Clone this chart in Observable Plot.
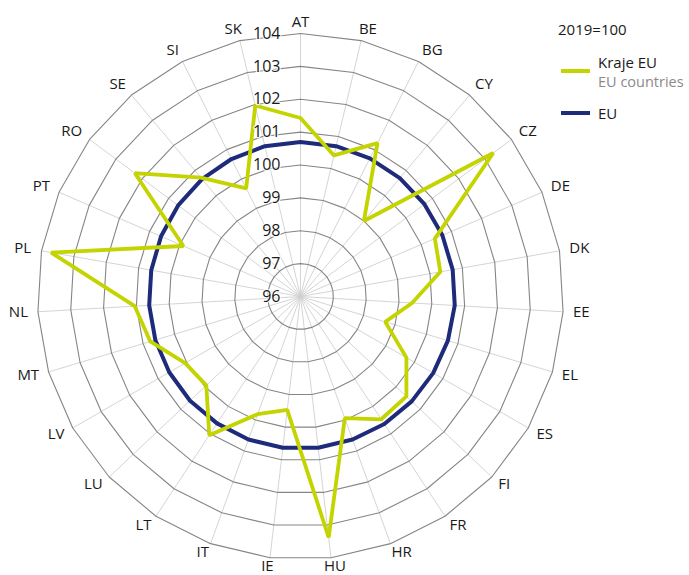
<!DOCTYPE html>
<html>
<head>
<meta charset="utf-8">
<script src="https://cdn.jsdelivr.net/npm/d3@7"></script>
<script src="https://cdn.jsdelivr.net/npm/@observablehq/plot@0.6"></script>
<style>
  html, body { margin: 0; padding: 0; background: #fff; }
  #wrap { position: relative; width: 689px; height: 575px; font-family: "Open Sans", sans-serif; overflow: hidden; }
  .lg { position: absolute; color: #1a1a1a; font-size: 15px; line-height: 18px; white-space: nowrap; }
  .lg.sub { color: #8a8a8a; font-size: 14.5px; }
  .sw { position: absolute; left: 561px; width: 29px; height: 4px; }
</style>
</head>
<body>
<div id="wrap">
  <div id="chart"></div>
  <div id="legend"></div>
</div>
<script>
// ---- data ----
const countries = ["AT","BE","BG","CY","CZ","DE","DK","EE","EL","ES","FI","FR","HR","HU","IE","IT","LT","LU","LV","MT","NL","PL","PT","RO","SE","SI","SK"];
const krajeEU = [101.43,100.41,101.22,99.0,103.31,100.45,100.32,99.40,98.69,99.72,100.43,100.47,99.94,103.38,99.47,99.81,101.05,99.94,100.05,100.77,101.05,103.70,99.88,102.28,100.72,99.68,101.97];
const euValues = [100.7,100.7,100.7,100.7,100.7,100.7,100.7,100.7,100.68,100.66,100.65,100.64,100.63,100.63,100.63,100.63,100.62,100.62,100.61,100.61,100.61,100.61,100.62,100.64,100.66,100.68,100.7];
const tickValues = [96,97,98,99,100,101,102,103,104];
const legendTitle = "2019=100";
const krajeName = "Kraje EU";
const krajeSub = "EU countries";
const euName = "EU";

// ---- layout ----
const W = 689, H = 575, cx = 300, cy = 296;
const rMin = 96, rMax = 104;
const k = 263 / (rMax - rMin);            // px per unit
const n = countries.length;
const ang = i => 2 * Math.PI * i / n;
const px = (v, i) => (v - rMin) * Math.sin(ang(i));
const py = (v, i) => (v - rMin) * Math.cos(ang(i));

const yellow = "#c3d400";
const navy = "#1e2b7b";
const textColor = "#1a1a1a";

const closed = arr => [...arr.map((v, i) => ({v, i})), {v: arr[0], i: 0}];

const ringData = tickValues.filter(t => t > rMin).flatMap(t =>
  closed(countries.map(() => t)).map(d => ({ring: t, x: px(t, d.i), y: py(t, d.i)})));

// label placement: outside the outer-ring vertex, box pushed away from the chart
const ctx = document.createElement("canvas").getContext("2d");
const spokes = countries.map((c, i) => {
  ctx.font = `${c === "PL" ? "bold " : ""}15px 'Open Sans'`;
  const w = ctx.measureText(c).width;
  const s = Math.sin(ang(i)), co = Math.cos(ang(i));
  const g = (6 + 4 * Math.abs(s)) / k;
  const side = Math.sign(s) * Math.min(1, Math.abs(s) * 2.5);
  const vOff = co > 0 ? 5.3 : 2;
  return {
    c, i,
    lx: px(rMax, i) + g * s + side * (w / 2) / k,
    ly: py(rMax, i) + g * co + co * vOff / k
  };
});

const chart = Plot.plot({
  width: W, height: H, margin: 0,
  x: {domain: [-cx / k, (W - cx) / k], range: [0, W], axis: null},
  y: {domain: [-(H - cy) / k, cy / k], range: [H, 0], axis: null},
  style: {fontFamily: "'Open Sans', sans-serif", background: "white", overflow: "visible"},
  marks: [
    Plot.link(spokes, {
      x1: () => 0, y1: () => 0,
      x2: d => px(rMax, d.i), y2: d => py(rMax, d.i),
      stroke: "#cfcfcf", strokeWidth: 0.9
    }),
    Plot.line(ringData, {x: "x", y: "y", z: "ring", stroke: "#858585", strokeWidth: 1.1}),
    Plot.line(closed(euValues), {x: d => px(d.v, d.i), y: d => py(d.v, d.i), stroke: navy, strokeWidth: 4, strokeLinejoin: "round"}),
    Plot.line(closed(krajeEU), {x: d => px(d.v, d.i), y: d => py(d.v, d.i), stroke: yellow, strokeWidth: 3.8, strokeLinejoin: "miter"}),
    Plot.text(tickValues, {
      x: () => 0, y: d => d - rMin, text: d => String(d),
      textAnchor: "end", dx: -20, fontSize: 16, fill: textColor,
      stroke: "white", strokeWidth: 2.5, strokeOpacity: 0.85
    }),
    Plot.text(spokes, {
      x: "lx", y: "ly",
      text: "c", fontSize: 15, fill: textColor,
      fontWeight: d => d.c === "PL" ? "bold" : "normal"
    })
  ]
});
document.getElementById("chart").appendChild(chart);

// ---- legend ----
const lg = document.getElementById("legend");
lg.innerHTML = `
  <div class="lg" style="left:558px;top:20px">${legendTitle}</div>
  <span class="sw" style="background:${yellow};top:69px"></span>
  <div class="lg" style="left:598px;top:53px">${krajeName}</div>
  <div class="lg sub" style="left:598px;top:73px">${krajeSub}</div>
  <span class="sw" style="background:${navy};top:111px"></span>
  <div class="lg" style="left:598px;top:104px">${euName}</div>`;
</script>
</body>
</html>
